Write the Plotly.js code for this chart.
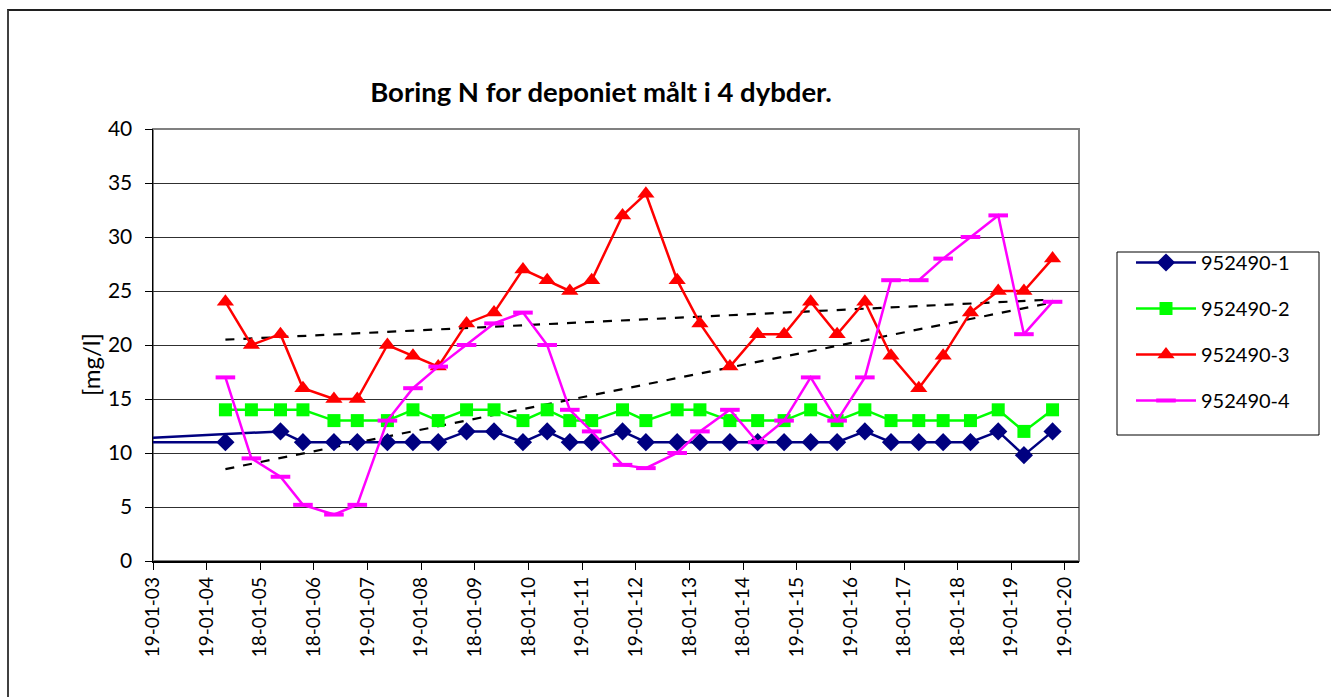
<!DOCTYPE html>
<html>
<head>
<meta charset="utf-8">
<script src="https://cdn.plot.ly/plotly-3.0.1.min.js"></script>
<style>
  html, body { margin: 0; padding: 0; background: #ffffff; overflow: hidden; }
  #chart { width: 1331px; height: 697px; }
  #frame { position: absolute; left: 7px; top: 9px; width: 1400px; height: 800px;
           border-left: 2px solid #404040; border-top: 2px solid #202020; pointer-events: none; }
</style>
</head>
<body>
<div id="chart"></div>
<div id="frame"></div>
<script>
// ---- Data ----
const sampleDates = [
  '2004-05-26','2004-11-19','2005-06-05','2005-11-05','2006-06-04','2006-11-10',
  '2007-06-03','2007-11-24','2008-05-14','2008-11-23','2009-05-29','2009-12-12',
  '2010-05-26','2010-10-27','2011-03-25','2011-10-21','2012-03-28','2012-10-27',
  '2013-03-31','2013-10-21','2014-04-28','2014-10-25','2015-04-24','2015-10-21',
  '2016-04-27','2016-10-22','2017-04-29','2017-10-12','2018-04-16','2018-10-22',
  '2019-04-15','2019-10-27'
];
// series 1 has its 2nd sample registered at an early (out-of-range) date
const series1Dates = [
  '2004-05-26','2001-05-01','2005-06-05','2005-11-05','2006-06-04','2006-11-10',
  '2007-06-03','2007-11-24','2008-05-14','2008-11-23','2009-05-29','2009-12-12',
  '2010-05-26','2010-10-27','2011-03-25','2011-10-21','2012-03-28','2012-10-27',
  '2013-03-31','2013-10-21','2014-04-28','2014-10-25','2015-04-24','2015-10-21',
  '2016-04-27','2016-10-22','2017-04-29','2017-10-12','2018-04-16','2018-10-22',
  '2019-04-15','2019-10-27'
];
const series1 = [11,11,12,11,11,11,11,11,11,12,12,11,12,11,11,12,11,11,11,11,11,11,11,11,12,11,11,11,11,12,9.8,12];
const series2 = [14,14,14,14,13,13,13,14,13,14,14,13,14,13,13,14,13,14,14,13,13,13,14,13,14,13,13,13,13,14,12,14];
const series3 = [24,20,21,16,15,15,20,19,18,22,23,27,26,25,26,32,34,26,22,18,21,21,24,21,24,19,16,19,23,25,25,28];
const series4 = [17,9.5,7.8,5.2,4.3,5.2,13,16,18,20,22,23,20,14,12,8.9,8.6,10,12,14,11,13,17,13,17,26,26,28,30,32,21,24];
const seriesNames = ['952490-1','952490-2','952490-3','952490-4'];
const tickLabels = ['19-01-03','19-01-04','18-01-05','18-01-06','19-01-07','19-01-08','18-01-09','18-01-10',
  '19-01-11','19-01-12','18-01-13','18-01-14','19-01-15','19-01-16','18-01-17','18-01-18','19-01-19','19-01-20'];

// ---- Axis ticks: steps of 365.25 days from the axis start ----
const axisStart = Date.UTC(2003, 0, 19);
const DAY = 86400000;
const tickVals = tickLabels.map((_, i) => axisStart + i * 365.25 * DAY);
const axisEnd = axisStart + 6305 * DAY;

// ---- Linear trend (least squares) ----
function trend(dates, ys) {
  const xs = dates.map(d => Date.parse(d + 'T00:00:00Z'));
  const n = xs.length;
  const mx = xs.reduce((a, b) => a + b, 0) / n;
  const my = ys.reduce((a, b) => a + b, 0) / n;
  let sxy = 0, sxx = 0;
  for (let i = 0; i < n; i++) { sxy += (xs[i] - mx) * (ys[i] - my); sxx += (xs[i] - mx) ** 2; }
  const b = sxy / sxx, a = my - b * mx;
  const x0 = xs[0], x1 = xs[n - 1];
  return { x: [x0, x1], y: [a + b * x0, a + b * x1] };
}
const t3 = trend(sampleDates, series3);
const t4 = trend(sampleDates, series4);

const LW = 2.5;
const traces = [
  { x: t3.x, y: t3.y, mode: 'lines', line: { color: '#000000', width: 2.2, dash: 'dash' },
    showlegend: false, hoverinfo: 'skip' },
  { x: t4.x, y: t4.y, mode: 'lines', line: { color: '#000000', width: 2.2, dash: 'dash' },
    showlegend: false, hoverinfo: 'skip' },
  { x: series1Dates, y: series1, name: seriesNames[0], mode: 'lines+markers', legendgroup: 'a',
    line: { color: '#000080', width: LW }, marker: { symbol: 'diamond', size: 14, color: '#000080' } },
  { x: sampleDates, y: series2, name: seriesNames[1], mode: 'lines+markers', legendgroup: 'b',
    line: { color: '#00FF00', width: LW }, marker: { symbol: 'square', size: 13, color: '#00FF00' } },
  { x: sampleDates, y: series3, name: seriesNames[2], mode: 'lines+markers', legendgroup: 'c',
    line: { color: '#FF0000', width: LW }, marker: { symbol: 'triangle-up', size: 15, color: '#FF0000' } },
  { x: sampleDates, y: series4, name: seriesNames[3], mode: 'lines+markers', legendgroup: 'd',
    line: { color: '#FF00FF', width: LW },
    marker: { symbol: 'line-ew', size: 14, color: '#FF00FF', line: { color: '#FF00FF', width: 4 } } }
];

// plot area in pixels: x 153..1079, y 129..561
const px = v => (v - 153) / 926;
const py = v => (561 - v) / 432;

const layout = {
  width: 1331, height: 697,
  margin: { l: 153, r: 252, t: 129, b: 136 },
  paper_bgcolor: '#ffffff', plot_bgcolor: '#ffffff',
  font: { family: 'Lato, sans-serif', size: 21, color: '#000000' },
  title: { text: '<b>Boring N for deponiet målt i 4 dybder.</b>', font: { family: 'Lato, sans-serif', size: 27.5, color: '#000000' },
    x: 601 / 1331, xref: 'container', xanchor: 'center', y: 1 - 92 / 697, yref: 'container', yanchor: 'middle' },
  xaxis: {
    type: 'date', range: [axisStart, axisEnd], tickmode: 'array', tickvals: tickVals, ticktext: tickLabels,
    tickangle: -90, ticks: 'outside', ticklen: 7, tickcolor: '#000000', tickwidth: 1,
    showgrid: false, zeroline: false, showline: true, linecolor: '#000000', linewidth: 1.5,
    tickfont: { family: 'Lato, sans-serif', size: 19, color: '#000000' }
  },
  yaxis: {
    range: [0, 40], tickvals: [0, 5, 10, 15, 20, 25, 30, 35, 40], ticks: 'outside', ticklen: 7,
    tickcolor: '#000000', tickwidth: 1, showgrid: true, gridcolor: '#303030', gridwidth: 1,
    zeroline: false, showline: true, linecolor: '#000000', linewidth: 1.5, ticklabelstandoff: 8,
    tickfont: { family: 'Lato, sans-serif', size: 21, color: '#000000' }
  },
  annotations: [
    { text: '[mg/l]', xref: 'paper', yref: 'paper', x: px(90), y: py(365), xanchor: 'center', yanchor: 'middle',
      textangle: -90, showarrow: false, font: { family: 'Lato, sans-serif', size: 24, color: '#000000' } }
  ],
  shapes: [
    { type: 'rect', xref: 'paper', yref: 'paper', x0: 0, x1: 1, y0: 0, y1: 1,
      line: { color: '#808080', width: 2 }, layer: 'below' },
    { type: 'rect', xref: 'paper', yref: 'paper', x0: px(1117), x1: px(1319), y0: py(435), y1: py(252),
      line: { color: '#000000', width: 1 }, fillcolor: 'rgba(0,0,0,0)', layer: 'above' }
  ],
  legend: {
    x: 1131 / 1331, xref: 'container', xanchor: 'left', y: 1 - 243 / 697, yref: 'container', yanchor: 'top',
    borderwidth: 0, bgcolor: 'rgba(0,0,0,0)',
    font: { family: 'Lato, sans-serif', size: 20, color: '#000000' },
    tracegroupgap: 17, itemwidth: 60
  },
  showlegend: true
};

Plotly.newPlot('chart', traces, layout, { displayModeBar: false, staticPlot: true });
</script>
</body>
</html>
